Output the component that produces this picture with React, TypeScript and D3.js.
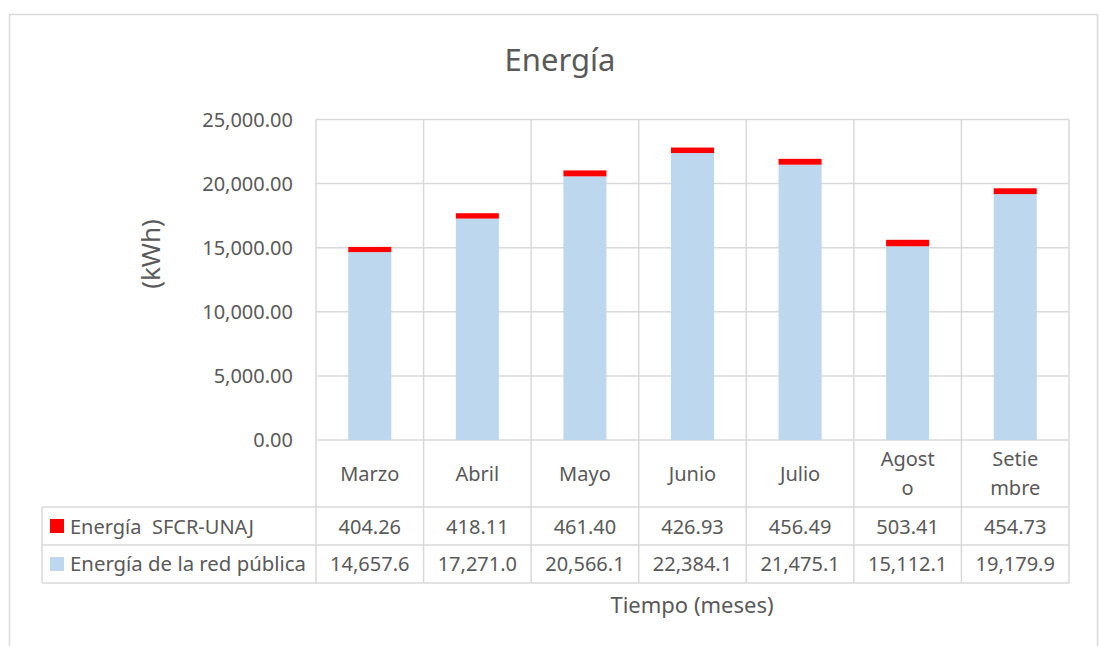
import React from "react";
import * as d3 from "d3";

const months = ["Marzo", "Abril", "Mayo", "Junio", "Julio", "Agosto", "Setiembre"];
const monthLines = [["Marzo"], ["Abril"], ["Mayo"], ["Junio"], ["Julio"], ["Agost", "o"], ["Setie", "mbre"]];
const redPublica = [14657.6, 17271.0, 20566.1, 22384.1, 21475.1, 15112.1, 19179.9];
const sfcr = [404.26, 418.11, 461.4, 426.93, 456.49, 503.41, 454.73];
const yTicks = [0, 5000, 10000, 15000, 20000, 25000];
const seriesNames = ["Energía  SFCR-UNAJ", "Energía de la red pública"];

const FONT = "'Noto Sans', 'Open Sans', sans-serif";
const TXT = "#595959";
const GRID = "#d9d9d9";

export default function App() {
  const W = 1099, H = 646;
  const left = 316, right = 1069, top = 119.5, bottom = 440;
  const tableLeft = 42, row1 = 507, row2 = 545, row3 = 583;

  const x = d3.scaleBand<string>().domain(months).range([left, right]).paddingInner(0).paddingOuter(0);
  const y = d3.scaleLinear().domain([0, 25000]).range([bottom, top]);
  const bw = x.bandwidth() * 0.4;
  const fmtTick = d3.format(",.2f");
  const fmt1 = d3.format(",.1f");
  const fmt2 = d3.format(".2f");
  const FS = 20;

  return (
    <svg width={W} height={H} style={{ display: "block", position: "absolute", left: 0, top: 0 }} fontFamily={FONT}>
      <rect x={0} y={0} width={W} height={H} fill="#fff" />
      <rect x={9.5} y={14.5} width={1088} height={700} fill="none" stroke={GRID} strokeWidth={1.5} />
      <text x={560} y={60} dy="0.35em" textAnchor="middle" fontSize={31} fill={TXT}>Energía</text>
      <text transform={`translate(151,${254}) rotate(-90)`} dy="0.35em" textAnchor="middle" fontSize={26} fill={TXT}>(kWh)</text>

      {yTicks.map((t) => (
        <g key={t}>
          <line x1={left} x2={right} y1={y(t)} y2={y(t)} stroke={GRID} strokeWidth={1.5} />
          <text x={293} y={y(t)} dy="0.35em" textAnchor="end" fontSize={FS} fill={TXT}>{fmtTick(t)}</text>
        </g>
      ))}

      {months.map((m) => (
        <line key={m} x1={x(m)!} x2={x(m)!} y1={top} y2={row3} stroke={GRID} strokeWidth={1.5} />
      ))}
      <line x1={right} x2={right} y1={top} y2={row3} stroke={GRID} strokeWidth={1.5} />
      <line x1={tableLeft} x2={tableLeft} y1={row1} y2={row3} stroke={GRID} strokeWidth={1.5} />
      {[row1, row2, row3].map((r) => (
        <line key={r} x1={tableLeft} x2={right} y1={r} y2={r} stroke={GRID} strokeWidth={1.5} />
      ))}

      {months.map((m, i) => {
        const cx = x(m)! + x.bandwidth() / 2;
        const base = redPublica[i];
        return (
          <g key={m}>
            <rect x={cx - bw / 2} y={y(base)} width={bw} height={y(0) - y(base)} fill="#bdd7ee" />
            <rect x={cx - bw / 2} y={y(base + sfcr[i])} width={bw} height={y(base) - y(base + sfcr[i])} fill="#ff0000" />
            {monthLines[i].length === 1 ? (
              <text x={cx} y={474} dy="0.35em" textAnchor="middle" fontSize={FS} fill={TXT}>{monthLines[i][0]}</text>
            ) : (
              monthLines[i].map((l, j) => (
                <text key={j} x={cx} y={459 + j * 29} dy="0.35em" textAnchor="middle" fontSize={FS} fill={TXT}>{l}</text>
              ))
            )}
            <text x={cx} y={527} dy="0.35em" textAnchor="middle" fontSize={FS} fill={TXT}>{fmt2(sfcr[i])}</text>
            <text x={cx} y={564} dy="0.35em" textAnchor="middle" fontSize={FS} fill={TXT}>{fmt1(redPublica[i])}</text>
          </g>
        );
      })}

      <rect x={50} y={519} width={14} height={14} fill="#ff0000" />
      <text x={70} y={527} dy="0.35em" fontSize={FS} fill={TXT} style={{ whiteSpace: "pre" }}>{seriesNames[0]}</text>
      <rect x={50} y={557} width={14} height={14} fill="#bdd7ee" />
      <text x={70} y={564} dy="0.35em" fontSize={FS} fill={TXT} textLength={236} lengthAdjust="spacingAndGlyphs">{seriesNames[1]}</text>

      <text x={692} y={605} dy="0.35em" textAnchor="middle" fontSize={22} fill={TXT}>Tiempo (meses)</text>
    </svg>
  );
}
